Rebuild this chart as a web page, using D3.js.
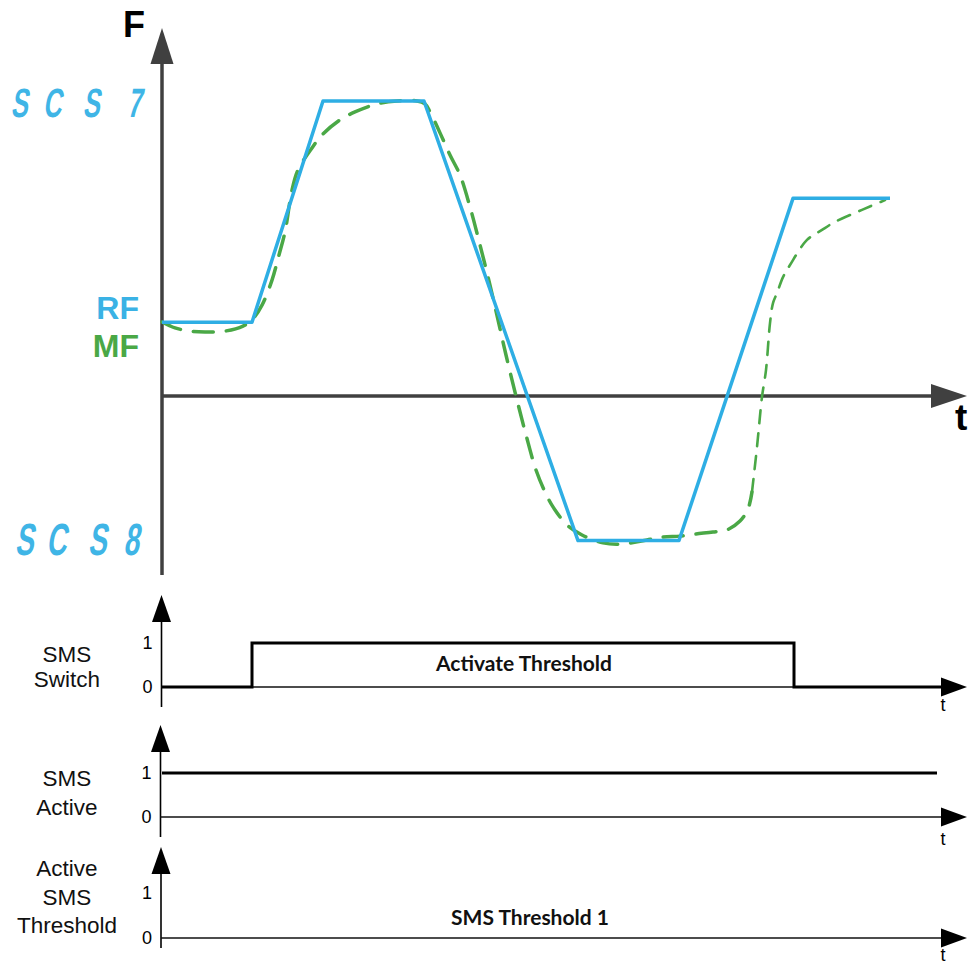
<!DOCTYPE html>
<html><head><meta charset="utf-8">
<script src="https://cdn.jsdelivr.net/npm/d3@7"></script>
<style>body{margin:0;background:#fff} svg{display:block}</style>
</head><body><svg id="c" width="979" height="966"></svg>
<script>
// ---------- data ----------
const timeDomain = [0, 80];
const forceDomain = [0, 10];
const levelNames = ["SCS7", "SCS8"];
const levelValues = [10, -4.9];
const rfT = [0, 9, 16.1, 26.2, 41.6, 51.7, 63.1, 72.8];
const rfF = [2.5, 2.5, 10, 10, -4.9, -4.9, 6.7, 6.7];
const mfT = [0, 1.3, 2.8, 4.3, 6.3, 8.1, 9.0, 10.0, 11.0, 11.7, 12.3, 13.0, 13.6, 15.0, 16.0, 17.8, 19.3, 21.5, 23.5, 25.5,
  26.3, 26.8, 27.8, 28.8, 29.8, 30.8, 31.8, 32.8, 33.6, 34.4, 35.4, 36.4, 37.4, 38.3, 39.1, 40.5, 42.0, 44.1, 46.0, 48.5,
  50.1, 51.8, 53.3, 55.1, 56.5, 57.8, 58.6, 59.0, 59.5, 60.0, 60.4, 60.8, 61.1, 61.5, 62.1, 62.8, 64.5, 66.0, 67.3, 70.0, 72.3];
const mfF = [2.51, 2.31, 2.20, 2.17, 2.20, 2.37, 2.58, 3.08, 3.93, 4.78, 5.56, 6.98, 7.66, 8.41, 8.85, 9.36, 9.63, 9.90, 10.0, 10.0,
  9.90, 9.63, 8.92, 8.17, 7.49, 6.41, 5.12, 3.76, 2.58, 1.39, 0, -1.32, -2.51, -3.25, -3.76, -4.37, -4.71, -4.98, -5.02, -4.88,
  -4.78, -4.75, -4.68, -4.61, -4.54, -4.24, -3.83, -3.25, -1.73, -0.03, 0.88, 2.47, 3.15, 3.49, 4.03, 4.44, 5.29, 5.63, 5.90, 6.31, 6.64];
const switchT = [0, 9, 63.2, 78];
const switchV = [0, 1, 0, 0];
const activeT = [0, 77.5];
const activeV = [1, 1];
const thresholdT = [];
const thresholdV = [];
const panelTicks = [0, 1];
const panelLabels = [["SMS", "Switch"], ["SMS", "Active"], ["Active", "SMS", "Threshold"]];
const panelTexts = ["Activate Threshold", "", "SMS Threshold 1"];

// ---------- drawing ----------
const svg = d3.select("#c");
const BLUE = "#2eaee4", GREEN = "#4aa846", AX = "#404040";
const x = d3.scaleLinear().domain(timeDomain).range([162, 962]);
const y = d3.scaleLinear().domain(forceDomain).range([396, 101]);

// main axes
svg.append("line").attr("x1", 162).attr("x2", 162).attr("y1", 575).attr("y2", 60)
  .attr("stroke", AX).attr("stroke-width", 3.5);
svg.append("path").attr("d", "M162,28 L173.5,64 L150.5,64 Z").attr("fill", AX);
svg.append("line").attr("x1", 162).attr("x2", 935).attr("y1", y(0)).attr("y2", y(0))
  .attr("stroke", AX).attr("stroke-width", 3.5);
svg.append("path").attr("d", `M967,${y(0)} L931,${y(0) - 12} L931,${y(0) + 12} Z`).attr("fill", AX);
svg.append("text").attr("x", 123).attr("y", 37).text("F")
  .attr("font-family", "Liberation Sans, Arial, sans-serif").attr("font-weight", "bold").attr("font-size", 36);
svg.append("text").attr("x", 955).attr("y", 430).text("t")
  .attr("font-family", "Liberation Sans, Arial, sans-serif").attr("font-weight", "bold").attr("font-size", 37);

// seven segment style level labels
const charX = [[19, 52, 91, 134], [24, 56, 97, 131]];
const charBase = [117, 555];
const charSize = [41, 45];
levelNames.forEach((name, i) => {
  const g = svg.append("g").attr("class", "lvl").attr("data-value", levelValues[i]);
  name.split("").forEach((ch, j) => {
    g.append("text").text(ch)
      .attr("transform", `translate(${charX[i][j]},${y(levelValues[i]) + (charBase[i] - (i ? 541 : 101))}) skewX(-10) scale(0.62,1)`)
      .attr("text-anchor", "middle")
      .attr("font-family", "Liberation Sans, Arial, sans-serif").attr("font-weight", "bold")
      .attr("font-size", charSize[i]).attr("fill", "#3fb5e6");
  });
});

// RF / MF labels
svg.append("text").attr("x", 139).attr("y", 319).attr("text-anchor", "end").text("RF")
  .attr("font-family", "Liberation Sans, Arial, sans-serif").attr("font-weight", "bold").attr("font-size", 32).attr("fill", "#3ab2e5");
svg.append("text").attr("x", 139).attr("y", 357).attr("text-anchor", "end").text("MF")
  .attr("font-family", "Liberation Sans, Arial, sans-serif").attr("font-weight", "bold").attr("font-size", 32).attr("fill", GREEN);

// MF dashed curve (two parts)
const mf = mfT.map((t, i) => [t, mfF[i]]);
const mfLine = d3.line().x(d => x(d[0])).y(d => y(d[1])).curve(d3.curveCatmullRom.alpha(0.5));
const split = mfT.indexOf(59.0);
svg.append("path").attr("d", mfLine(mf.slice(0, split + 1))).attr("fill", "none")
  .attr("stroke", GREEN).attr("stroke-width", 3.5).attr("stroke-dasharray", "20,13").attr("stroke-linecap", "round");
svg.append("path").attr("d", mfLine(mf.slice(split))).attr("fill", "none")
  .attr("stroke", GREEN).attr("stroke-width", 2.6).attr("stroke-dasharray", "13,10").attr("stroke-linecap", "round");

// RF line
const rf = rfT.map((t, i) => [t, rfF[i]]);
svg.append("path").attr("d", d3.line().x(d => x(d[0])).y(d => y(d[1]))(rf)).attr("fill", "none")
  .attr("stroke", BLUE).attr("stroke-width", 3.5).attr("stroke-linejoin", "round");

// lower panels
const panels = [
  {zero: 687, one: 643, tip: 595, bottom: 707, ax: 161.5, tY: 711, T: switchT, V: switchV, curve: d3.curveStepAfter, textY: 671, textX: 524},
  {zero: 817, one: 773, tip: 725, bottom: 837, ax: 160.5, tY: 845, T: activeT, V: activeV, curve: d3.curveLinear},
  {zero: 938, one: 893, tip: 847, bottom: 948, ax: 161, tY: 961, T: thresholdT, V: thresholdV, curve: d3.curveLinear, textY: 925, textX: 530}
];
const labelBase = [[662, 687], [786, 815], [876, 905, 933]];
panels.forEach((p, i) => {
  const py = d3.scaleLinear().domain([0, 1]).range([p.zero, p.one]);
  const g = svg.append("g");
  g.append("line").attr("x1", p.ax).attr("x2", p.ax).attr("y1", p.bottom).attr("y2", p.tip + 20)
    .attr("stroke", "#000").attr("stroke-width", 1.6);
  g.append("path").attr("d", `M${p.ax},${p.tip} L${p.ax + 9.5},${p.tip + 27} L${p.ax - 9.5},${p.tip + 27} Z`).attr("fill", "#000");
  g.append("line").attr("x1", p.ax).attr("x2", 945).attr("y1", p.zero).attr("y2", p.zero)
    .attr("stroke", "#111").attr("stroke-width", 1.4);
  g.append("path").attr("d", `M967,${p.zero} L941,${p.zero - 9.5} L941,${p.zero + 9.5} Z`).attr("fill", "#000");
  g.append("text").attr("x", 943).attr("y", p.tY).attr("text-anchor", "middle").text("t")
    .attr("font-family", "Liberation Sans, Arial, sans-serif").attr("font-size", 18);
  const axis = d3.axisLeft(py).tickValues(panelTicks).tickSize(0).tickPadding(9).tickFormat(d3.format("d"));
  const ag = g.append("g").attr("transform", `translate(${p.ax},0)`).call(axis);
  ag.select(".domain").remove();
  ag.selectAll("text").attr("font-family", "Liberation Sans, Arial, sans-serif").attr("font-size", 18).attr("fill", "#000");
  if (p.T.length) {
    const data = p.T.map((t, k) => [t, p.V[k]]);
    g.append("path").attr("d", d3.line().x(d => x(d[0])).y(d => py(d[1])).curve(p.curve)(data))
      .attr("fill", "none").attr("stroke", "#000").attr("stroke-width", 3).attr("stroke-linejoin", "miter");
  }
  panelLabels[i].forEach((s, k) => {
    g.append("text").attr("x", 67).attr("y", labelBase[i][k]).attr("text-anchor", "middle").text(s)
      .attr("font-family", "Liberation Sans, Arial, sans-serif").attr("font-size", 22.5).attr("fill", "#111");
  });
  if (panelTexts[i]) {
    g.append("text").attr("x", p.textX).attr("y", p.textY).attr("text-anchor", "middle").text(panelTexts[i])
      .attr("font-family", "Lato, sans-serif").attr("font-weight", "bold").attr("font-size", 21).attr("fill", "#111");
  }
});
</script></body></html>
